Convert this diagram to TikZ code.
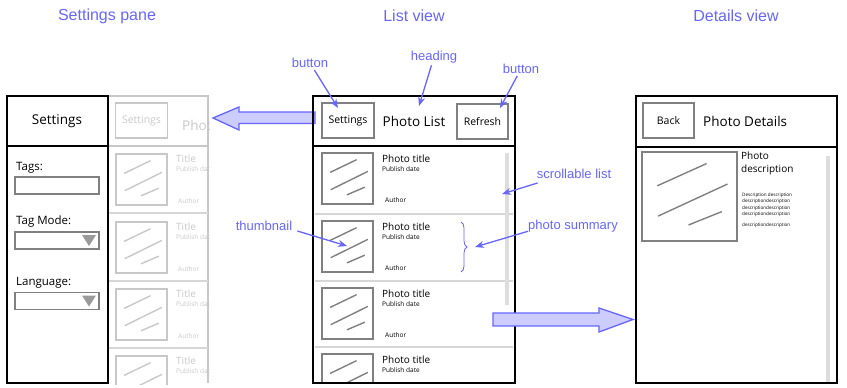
\documentclass[tikz,border=0pt]{standalone}
\usepackage{fontspec}
\setmainfont{Liberation Sans}
\newfontfamily\wirefont{Open Sans}
\usetikzlibrary{arrows.meta,decorations.pathreplacing,positioning}

\definecolor{notecol}{RGB}{102,102,255}
\definecolor{notefill}{RGB}{204,204,255}
\definecolor{wiregray}{RGB}{128,128,128}
\definecolor{sepgray}{RGB}{214,214,214}
\definecolor{ghostgray}{RGB}{200,200,200}
\definecolor{barcol}{RGB}{221,221,221}

\tikzset{
  viewtitle/.style={text=notecol, font=\fontsize{16}{18}\selectfont},
  note/.style={text=notecol, font=\fontsize{13}{15}\selectfont, inner sep=2pt},
  pointer/.style={draw=notecol, line width=1.3pt, -{Stealth[length=9pt,width=7pt]}},
  blockarrow/.style={draw=notecol, fill=notefill, line width=1.3pt, line join=miter},
  frame/.style={draw=black, line width=1.6pt},
  sep/.style={draw=sepgray, line width=1.8pt},
  btn/.style={draw=wiregray, line width=1.8pt, inner sep=0pt,
    minimum width=52pt, minimum height=35pt, font=\wirefont\fontsize{10.5}{12}\selectfont},
  field/.style={draw=wiregray, line width=1.8pt, inner sep=0pt,
    minimum width=84pt, minimum height=17pt},
  heading/.style={font=\wirefont\fontsize{13.5}{15}\selectfont},
  lbl/.style={anchor=west, inner sep=0pt, font=\wirefont\fontsize{11.5}{13}\selectfont},
  ptitle/.style={anchor=west, inner sep=0pt, font=\wirefont\fontsize{10}{12}\selectfont},
  psmall/.style={anchor=west, inner sep=0pt, font=\wirefont\fontsize{6.5}{8}\selectfont},
  thumb/.pic={
    \draw[pic actions] (0,0) rectangle (1,1);
    \draw[pic actions, line width=1.4pt] (0.16,0.38) -- (0.68,0.13);
    \draw[pic actions, line width=1.4pt] (0.17,0.72) -- (0.90,0.36);
    \draw[pic actions, line width=1.4pt] (0.49,0.82) -- (0.84,0.67);
  }
}

\begin{document}
\begin{tikzpicture}[x=1pt,y=-1pt]
\useasboundingbox (0,0) rectangle (847,388);

% view titles
\node[viewtitle] (title-set) at (107,16) {Settings pane};
\node[viewtitle] (title-list) at (414,16) {List view};
\node[viewtitle] (title-det) at (736,16) {Details view};

% greyed list view behind the settings pane
\begin{scope}
  \clip (108,95) rectangle (209,384);
  \draw[ghostgray, line width=1.6pt] (108,96) -- (208,96) -- (208,383);
  \draw[ghostgray, line width=1.6pt] (108,146) -- (208,146);
  \node[btn, draw=ghostgray, text=ghostgray] (ghost-btn) at (141.5,120.5) {Settings};
  \node[heading, text=ghostgray, anchor=west, inner sep=0pt] (ghost-head) at (182,125) {Photo List};
  \foreach \y in {213,281,348}
    \draw[sepgray, line width=1.8pt] (108,\y) -- (208,\y);
  \foreach \y in {146,214,281,348} {
    \pic[draw=ghostgray, line width=1.8pt, xscale=51, yscale=51] at (116,\y+8) {thumb};
    \node[ptitle, text=ghostgray] (ghost-title-\y) at (176,\y+13) {Title};
    \node[psmall, text=ghostgray] (ghost-date-\y) at (176,\y+23) {Publish date};
  }
  \foreach \y in {146,214,281}
    \node[psmall, text=ghostgray] (ghost-author-\y) at (178,\y+55) {Author};
\end{scope}

% settings pane
\draw[frame, fill=white] (7,96) rectangle (108,383);
\draw[frame] (7,146) -- (108,146);
\node[heading] (set-head) at (57,121) {Settings};
\node[lbl] (tags-lbl) at (16,168) {Tags:};
\node[field] (tags-box) at (57,185.5) {};
\node[lbl] (mode-lbl) at (16,222) {Tag Mode:};
\node[field] (mode-box) at (57,240.5) {};
\fill[wiregray!80] (82,235) -- (96,235) -- (89,246) -- cycle;
\node[lbl] (lang-lbl) at (16,283) {Language:};
\node[field] (lang-box) at (57,301) {};
\fill[wiregray!80] (82,295.5) -- (96,295.5) -- (89,306.5) -- cycle;

% arrow to the settings pane
\draw[blockarrow] (315,112) -- (239,112) -- (239,107) -- (213,118)
  -- (239,130) -- (239,123.5) -- (315,123.5) -- cycle;

% list view
\begin{scope}
  \clip (313,96) rectangle (515,383);
  \foreach \y in {214,281,347}
    \draw[sep] (315,\y) -- (513,\y);
  \foreach \y in {146,214,281,347} {
    \pic[draw=wiregray, line width=1.8pt, xscale=51, yscale=51] at (322,\y+7) {thumb};
    \node[ptitle] (item-title-\y) at (382,\y+13) {Photo title};
    \node[psmall] (item-date-\y) at (382,\y+23) {Publish date};
  }
  \foreach \y in {146,214,281}
    \node[psmall] (item-author-\y) at (385,\y+54) {Author};
  \fill[barcol] (505,153) rectangle (509,305);
\end{scope}
\draw[frame] (313,96) rectangle (515,383);
\draw[frame] (313,146) -- (515,146);
\node[btn] (set-btn) at (348,120.5) {Settings};
\node[heading] (list-head) at (414,121) {Photo List};
\node[btn, minimum width=51pt] (ref-btn) at (482.5,121.5) {Refresh};
\draw[notecol, line width=0.8pt, decorate, decoration={brace, amplitude=6pt}]
  (461,222) -- (461,272);

% arrow to the details view
\draw[blockarrow] (493,313) -- (599,313) -- (599,308) -- (633,319.5)
  -- (599,332) -- (599,326) -- (493,326) -- cycle;

% details view
\draw[frame] (636,96) rectangle (837,383);
\draw[frame] (636,147) -- (837,147);
\node[btn, minimum width=51pt] (back-btn) at (668.5,120.5) {Back};
\node[heading, anchor=west, inner sep=0pt] (det-head) at (703,121) {Photo Details};
\pic[draw=wiregray, line width=1.8pt, xscale=95, yscale=89] at (642,152) {thumb};
\node[anchor=north west, inner sep=0pt, align=left,
  font=\wirefont\fontsize{10}{13}\selectfont] (desc-head) at (741,152) {Photo\\description};
\node[anchor=north west, inner sep=0pt, align=left,
  font=\wirefont\fontsize{4.6}{6.3}\selectfont] (desc-text) at (742,193)
  {Description description\\descriptiondescription\\descriptiondescription\\descriptiondescription\\[5pt]descriptiondescription};
\fill[barcol] (826,156) rectangle (830,382);

% annotations
\node[note] (note-btn-a) at (310,63) {button};
\node[note] (note-head) at (434,57) {heading};
\node[note] (note-btn-b) at (521,69) {button};
\node[note] (note-scroll) at (574,174) {scrollable list};
\node[note] (note-thumb) at (264,226) {thumbnail};
\node[note] (note-sum) at (573,226) {photo summary};
\coordinate (tip-btn-a) at (338,108);
\coordinate (tip-head) at (419,106);
\coordinate (tip-btn-b) at (500,108);
\coordinate (tip-scroll) at (502,194);
\coordinate (tip-thumb) at (347,246);
\coordinate (tip-sum) at (475,247);
\draw[pointer] (note-btn-a) -- (tip-btn-a);
\draw[pointer] (note-head) -- (tip-head);
\draw[pointer] (note-btn-b) -- (tip-btn-b);
\draw[pointer] (note-scroll.south west) ++(3,2) -- (tip-scroll);
\draw[pointer] (note-thumb.east) ++(3,5) -- (tip-thumb);
\draw[pointer] (note-sum.south west) ++(2,-3) -- (tip-sum);
\end{tikzpicture}
\end{document}
